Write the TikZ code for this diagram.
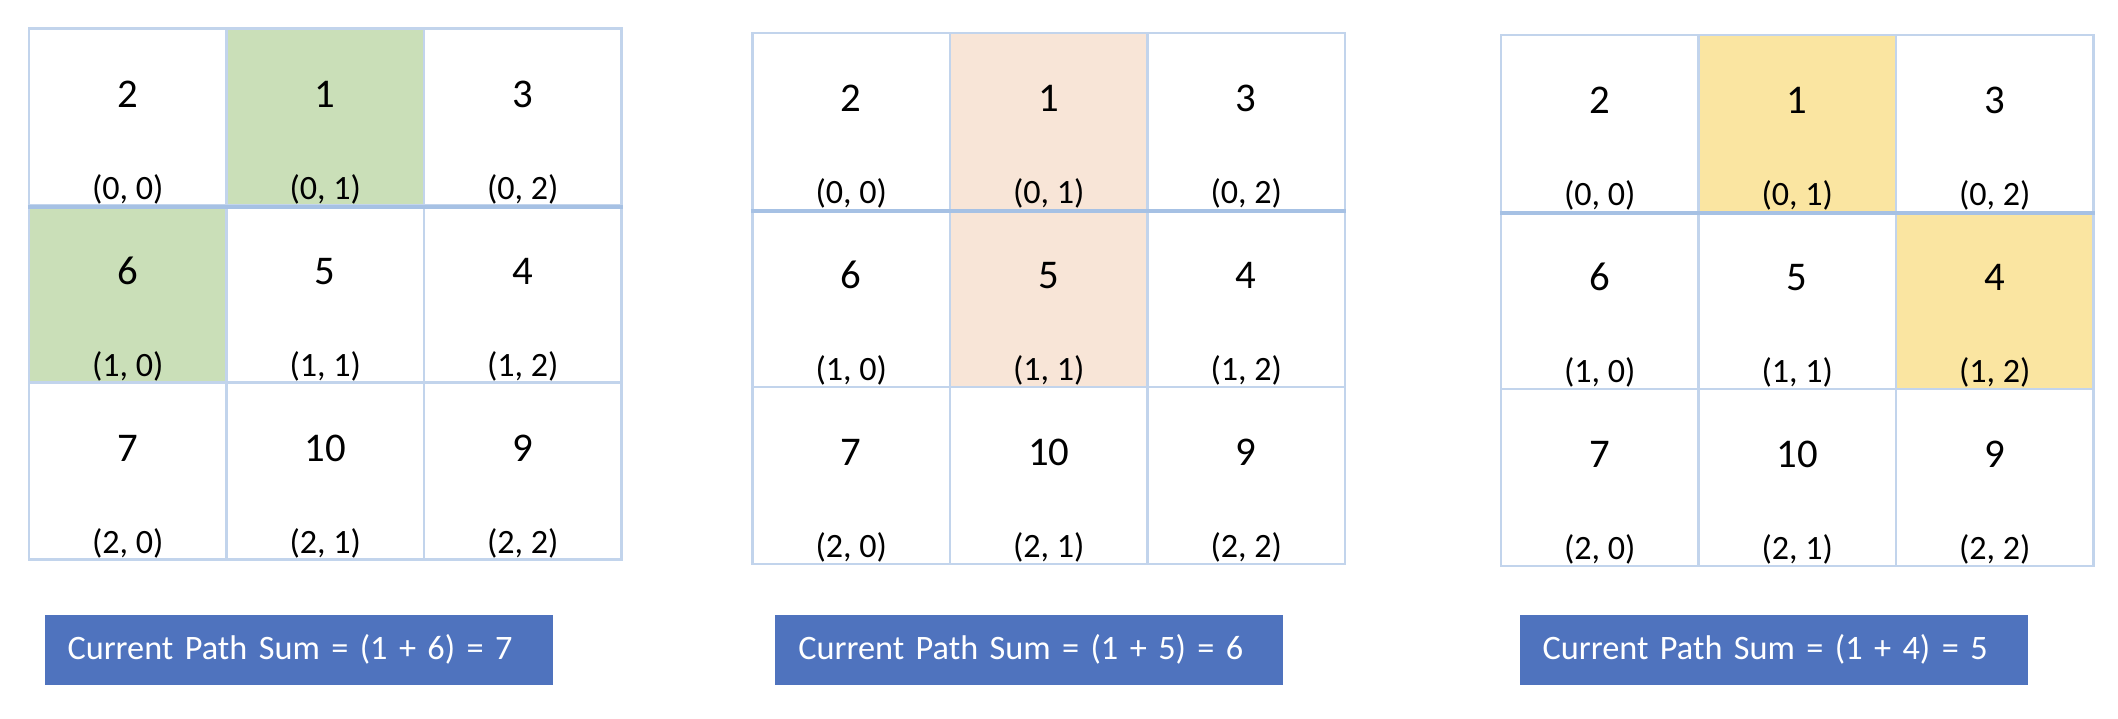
\documentclass[tikz,border=0pt]{standalone}
\usepackage{fontspec}
\setmainfont{Carlito}
\usetikzlibrary{positioning, backgrounds}
\usepackage{xcolor}
\definecolor{GridLine}{HTML}{C2D4EC}
\definecolor{GridRule}{HTML}{A6C1E4}
\definecolor{PathGreen}{HTML}{CADFB8}
\definecolor{PathPeach}{HTML}{F8E5D7}
\definecolor{PathGold}{HTML}{FAE5A1}
\definecolor{SumBlue}{HTML}{4F73BE}
\tikzset{
    % Grid cells and their texts
    cell/.style={
        rectangle,
        draw=GridLine,
        line width=0.6pt,
        minimum width=1.975cm,
        minimum height=1.77cm,
        inner sep=0pt
    },
    numlabel/.style={
        anchor=base,
        inner sep=0pt,
        font=\fontsize{11.6}{13}\selectfont
    },
    poslabel/.style={
        anchor=base,
        inner sep=0pt,
        font=\fontsize{9.7}{11}\selectfont
    },
    rowrule/.style={
        draw=GridRule,
        line width=1.15pt
    },
    % Sum boxes below the grids
    sumbox/.style={
        rectangle,
        fill=SumBlue,
        text=white,
        minimum height=0.70cm,
        text width=4.62cm,
        inner xsep=0.23cm,
        align=left,
        font=\fontsize{9.75}{12}\selectfont
    }
}

\begin{document}
\begin{tikzpicture}
    \useasboundingbox (0,0) rectangle (21.18,-7.18);

    \foreach \g/\gx/\gy in {a/0.29/-0.285, b/7.525/-0.33, c/15.01/-0.35} {
        \foreach \v [count=\k from 0] in {2,1,3,6,5,4,7,10,9} {
            \pgfmathtruncatemacro\ri{int(\k/3)}
            \pgfmathtruncatemacro\ci{mod(\k,3)}
            \node[cell] (\g-\ri-\ci) at ({\gx+(\ci+0.5)*1.975}, {\gy-(\ri+0.5)*1.77}) {};
            \node[numlabel] (\g-\ri-\ci-v) at ([yshift=-0.80cm]\g-\ri-\ci.north) {\v};
            \node[poslabel] (\g-\ri-\ci-p) at ([yshift=0.075cm]\g-\ri-\ci.south) {(\ri, \ci)};
        }
        \draw[rowrule] (\g-0-0.south west) -- (\g-0-2.south east);
    }

    % highlighted path cells
    \begin{scope}[on background layer]
        \fill[PathGreen] (a-0-1.south west) rectangle (a-0-1.north east);
        \fill[PathGreen] (a-1-0.south west) rectangle (a-1-0.north east);
        \fill[PathPeach] (b-0-1.south west) rectangle (b-0-1.north east);
        \fill[PathPeach] (b-1-1.south west) rectangle (b-1-1.north east);
        \fill[PathGold] (c-0-1.south west) rectangle (c-0-1.north east);
        \fill[PathGold] (c-1-2.south west) rectangle (c-1-2.north east);
    \end{scope}

    \node[sumbox] (suma) at (2.985,-6.497) {Current Path Sum = (1 + 6) = 7};
    \node[sumbox] (sumb) at (10.293,-6.497) {Current Path Sum = (1 + 5) = 6};
    \node[sumbox] (sumc) at (17.736,-6.497) {Current Path Sum = (1 + 4) = 5};
\end{tikzpicture}
\end{document}
